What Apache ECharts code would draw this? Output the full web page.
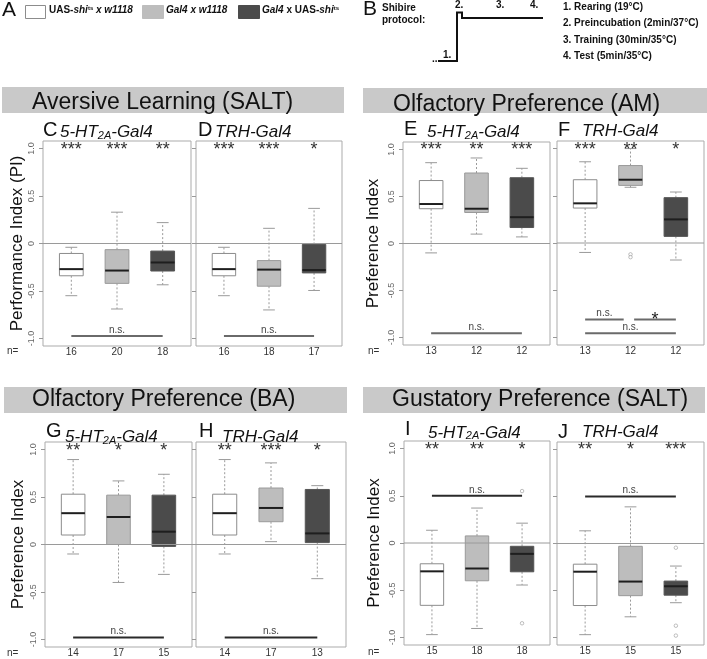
<!DOCTYPE html>
<html>
<head>
<meta charset="utf-8">
<script src="https://cdn.jsdelivr.net/npm/echarts@6/dist/echarts.min.js"></script>
<style>
html, body { margin: 0; padding: 0; background: #fff; }
#chart { width: 707px; height: 659px; }
</style>
</head>
<body>
<div id="chart"></div>
<script>
var FONT = '"Liberation Sans", Arial, Helvetica, sans-serif';

// genotype order inside every panel
var genotypes = ['UAS-shits x w1118', 'Gal4 x w1118', 'Gal4 x UAS-shits'];
var yTicks = [-1, -0.5, 0, 0.5, 1];

// [lower whisker, Q1, median, Q3, upper whisker] per genotype
var boxC = [[-0.55, -0.34, -0.27, -0.105, -0.04], [-0.69, -0.42, -0.285, -0.065, 0.33], [-0.435, -0.29, -0.20, -0.08, 0.22]];
var boxD = [[-0.55, -0.34, -0.27, -0.105, -0.04], [-0.70, -0.45, -0.275, -0.18, 0.16], [-0.495, -0.31, -0.28, -0.01, 0.37]];
var boxE = [[-0.10, 0.37, 0.42, 0.67, 0.86], [0.10, 0.33, 0.37, 0.75, 0.91], [0.07, 0.17, 0.28, 0.70, 0.80]];
var boxF = [[-0.10, 0.37, 0.42, 0.67, 0.86], [0.59, 0.61, 0.67, 0.82, 1.0], [-0.18, 0.07, 0.25, 0.48, 0.54]];
var boxG = [[-0.10, 0.10, 0.33, 0.53, 0.895], [-0.40, 0.0, 0.29, 0.52, 0.67], [-0.315, -0.02, 0.135, 0.52, 0.74]];
var boxH = [[-0.10, 0.10, 0.33, 0.53, 0.895], [0.03, 0.24, 0.385, 0.595, 0.86], [-0.36, 0.02, 0.117, 0.58, 0.62]];
var boxI = [[-0.97, -0.66, -0.30, -0.22, 0.135], [-0.905, -0.40, -0.27, 0.075, 0.37], [-0.445, -0.305, -0.115, -0.035, 0.21]];
var boxJ = [[-0.97, -0.66, -0.30, -0.22, 0.135], [-0.78, -0.555, -0.405, -0.03, 0.39], [-0.63, -0.55, -0.455, -0.40, -0.24]];

// outliers [group, value]
var outF = [[2, -0.12], [2, -0.15]];
var outI = [[3, 0.55], [3, -0.85]];
var outJ = [[3, -0.045], [3, -0.875], [3, -0.98]];

// significance vs. zero
var starsC = ['***', '***', '**'];
var starsD = ['***', '***', '*'];
var starsE = ['***', '**', '***'];
var starsF = ['***', '**', '*'];
var starsG = ['**', '*', '*'];
var starsH = ['**', '***', '*'];
var starsI = ['**', '**', '*'];
var starsJ = ['**', '*', '***'];

// sample sizes
var nC = [16, 20, 18], nD = [16, 18, 17];
var nE = [13, 12, 12], nF = [13, 12, 12];
var nG = [14, 17, 15], nH = [14, 17, 13];
var nI = [15, 18, 18], nJ = [15, 15, 15];

// between-group comparisons [from, to, level, label]
var sigC = [[1, 3, -0.975, 'n.s.']];
var sigD = [[1, 3, -0.975, 'n.s.']];
var sigE = [[1, 3, -0.955, 'n.s.']];
var sigF = [[1, 1.85, -0.81, 'n.s.'], [2.08, 3, -0.81, '*'], [1, 3, -0.955, 'n.s.']];
var sigG = [[1, 3, -0.98, 'n.s.']];
var sigH = [[1, 3, -0.98, 'n.s.']];
var sigI = [[1, 3, 0.50, 'n.s.']];
var sigJ = [[1, 3, 0.50, 'n.s.']];

var panels = [
    {key: 'C', box: boxC, out: [], stars: starsC, n: nC, sig: sigC, row: 0, yName: 'Performance Index (PI)'},
    {key: 'D', box: boxD, out: [], stars: starsD, n: nD, sig: sigD, row: 0},
    {key: 'E', box: boxE, out: [], stars: starsE, n: nE, sig: sigE, row: 0, yName: 'Preference Index'},
    {key: 'F', box: boxF, out: outF, stars: starsF, n: nF, sig: sigF, row: 0},
    {key: 'G', box: boxG, out: [], stars: starsG, n: nG, sig: sigG, row: 1, yName: 'Preference Index'},
    {key: 'H', box: boxH, out: [], stars: starsH, n: nH, sig: sigH, row: 1},
    {key: 'I', box: boxI, out: outI, stars: starsI, n: nI, sig: sigI, row: 1, yName: 'Preference Index'},
    {key: 'J', box: boxJ, out: outJ, stars: starsJ, n: nJ, sig: sigJ, row: 1}
];

// plot boxes in pixels
var layout = {
    C: {left: 43, top: 141, width: 148, height: 205, gap: 16},
    D: {left: 196, top: 141, width: 146, height: 205},
    E: {left: 403, top: 142, width: 147, height: 203, gap: 21},
    F: {left: 557, top: 141, width: 147, height: 204},
    G: {left: 45, top: 442, width: 147, height: 205, gap: 18},
    H: {left: 196, top: 442, width: 150, height: 205},
    I: {left: 404, top: 441, width: 146, height: 204, gap: 21},
    J: {left: 557, top: 442, width: 147, height: 203}
};

var boxStyle = [
    {fill: '#ffffff', stroke: '#8c8c8c'},
    {fill: '#bdbdbd', stroke: '#999999'},
    {fill: '#4b4b4b', stroke: '#555555'}
];
var BOX_W = 0.52;

function renderBox(params, api) {
    var x = api.value(0);
    var lo = api.coord([x, api.value(1)]);
    var q1 = api.coord([x, api.value(2)]);
    var md = api.coord([x, api.value(3)]);
    var q3 = api.coord([x, api.value(4)]);
    var hi = api.coord([x, api.value(5)]);
    var st = boxStyle[api.value(6)];
    var hw = api.size([BOX_W / 2, 0])[0];
    var cw = api.size([BOX_W / 4, 0])[0];
    var cx = lo[0];
    var wl = {stroke: '#9a9a9a', lineWidth: 1, lineDash: [2, 2]};
    var cl = {stroke: '#9a9a9a', lineWidth: 1};
    return {
        type: 'group',
        children: [
            {type: 'line', shape: {x1: cx, y1: q3[1], x2: cx, y2: hi[1]}, style: wl},
            {type: 'line', shape: {x1: cx, y1: q1[1], x2: cx, y2: lo[1]}, style: wl},
            {type: 'line', shape: {x1: cx - cw, y1: hi[1], x2: cx + cw, y2: hi[1]}, style: cl},
            {type: 'line', shape: {x1: cx - cw, y1: lo[1], x2: cx + cw, y2: lo[1]}, style: cl},
            {type: 'rect', shape: {x: cx - hw, y: q3[1], width: 2 * hw, height: q1[1] - q3[1]},
                style: {fill: st.fill, stroke: st.stroke, lineWidth: 1}},
            {type: 'line', shape: {x1: cx - hw, y1: md[1], x2: cx + hw, y2: md[1]},
                style: {stroke: '#1e1e1e', lineWidth: 2}}
        ]
    };
}

function renderZero(params, api) {
    var cs = params.coordSys;
    var y = api.coord([api.value(0), api.value(1)])[1];
    return {type: 'line', shape: {x1: cs.x, y1: y, x2: cs.x + cs.width, y2: y},
        style: {stroke: '#9a9a9a', lineWidth: 1}};
}

var grids = [], xAxes = [], yAxes = [], series = [];

panels.forEach(function (p, i) {
    var L = layout[p.key];
    var first = !!p.yName;
    grids.push({
        left: L.left, top: L.top, width: L.width, height: L.height,
        show: true, borderColor: '#ababab', borderWidth: 1,
        containLabel: false, outerBoundsMode: 'none'
    });
    xAxes.push({
        type: 'value', gridIndex: i, min: 0.38, max: 3.62,
        axisLine: {show: false}, axisTick: {show: false}, splitLine: {show: false},
        axisLabel: {
            customValues: [1, 2, 3], margin: 1, fontSize: 10, color: '#333', fontFamily: FONT,
            formatter: function (v) { return String(p.n[Math.round(v) - 1]); }
        }
    });
    yAxes.push({
        type: 'value', gridIndex: i, min: -1.08, max: 1.08,
        splitLine: {show: false}, axisLine: {show: false},
        axisTick: {show: true, customValues: yTicks, length: 4, lineStyle: {color: '#999'}},
        axisLabel: {
            show: first, customValues: yTicks, rotate: 90, margin: 7,
            fontSize: 9, color: '#666', fontFamily: FONT,
            formatter: function (v) { return v === 0 ? '0' : v.toFixed(1); }
        },
        name: first ? p.yName : '', nameLocation: 'middle', nameRotate: 90, nameGap: L.gap || 20,
        nameTextStyle: {fontSize: 17, color: '#111', fontFamily: FONT}
    });

    series.push({
        type: 'custom', name: p.key + ' boxes', xAxisIndex: i, yAxisIndex: i, silent: true, z: 2,
        renderItem: renderBox,
        encode: {x: 0, y: [1, 2, 3, 4, 5]},
        data: p.box.map(function (b, k) { return [k + 1].concat(b).concat([k]); })
    });
    series.push({
        type: 'custom', xAxisIndex: i, yAxisIndex: i, silent: true, z: 3,
        renderItem: renderZero, encode: {x: 0, y: 1}, data: [[2, 0]]
    });
    series.push({
        type: 'scatter', xAxisIndex: i, yAxisIndex: i, silent: true, z: 3,
        symbol: 'circle', symbolSize: 3.5,
        itemStyle: {color: '#ffffff', borderColor: '#9a9a9a', borderWidth: 0.8},
        data: p.out
    });
    series.push({
        type: 'custom', xAxisIndex: i, yAxisIndex: i, silent: true, z: 4,
        encode: {x: 0, y: 1},
        data: p.stars.map(function (s, k) { return [k + 1, 1.0]; }),
        renderItem: function (params, api) {
            var pt = api.coord([api.value(0), api.value(1)]);
            return {type: 'text', x: pt[0], y: pt[1] + 1,
                style: {text: p.stars[params.dataIndex], fill: '#333', font: '18px ' + FONT,
                    align: 'center', verticalAlign: 'middle'}};
        }
    });
    series.push({
        type: 'custom', xAxisIndex: i, yAxisIndex: i, silent: true, z: 4,
        encode: {x: [0, 1], y: 2},
        data: p.sig.map(function (s) { return [s[0], s[1], s[2]]; }),
        renderItem: function (params, api) {
            var a = api.coord([api.value(0), api.value(2)]);
            var b = api.coord([api.value(1), api.value(2)]);
            var lab = p.sig[params.dataIndex][3];
            var col = p.row === 0 ? '#6a6a6a' : '#2a2a2a';
            var txt = lab === '*'
                ? {type: 'text', x: (a[0] + b[0]) / 2, y: a[1] + 1,
                    style: {text: lab, fill: '#222', font: '18px ' + FONT, align: 'center', verticalAlign: 'middle'}}
                : {type: 'text', x: (a[0] + b[0]) / 2, y: a[1] - 1,
                    style: {text: lab, fill: '#444', font: '10px ' + FONT, align: 'center', verticalAlign: 'bottom'}};
            return {type: 'group', children: [
                {type: 'line', shape: {x1: a[0], y1: a[1], x2: b[0], y2: b[1]}, style: {stroke: col, lineWidth: 2}},
                txt
            ]};
        }
    });
});

// ---- decorations: banners, panel titles, legend (A), protocol (B)
var banners = [
    {text: 'Aversive Learning (SALT)', x: 2, y: 87, w: 342, h: 26, tx: 32, ty: 103},
    {text: 'Olfactory Preference (AM)', x: 363, y: 88, w: 344, h: 25, tx: 393, ty: 105},
    {text: 'Olfactory Preference (BA)', x: 4, y: 387, w: 343, h: 26, tx: 32, ty: 400},
    {text: 'Gustatory Preference (SALT)', x: 363, y: 387, w: 342, h: 26, tx: 392, ty: 400}
];
var titles = [
    {letter: 'C', lx: 43, ly: 130.5, gene: 'ht', tx: 60, ty: 132.5},
    {letter: 'D', lx: 198, ly: 130.5, gene: 'trh', tx: 215, ty: 132.5},
    {letter: 'E', lx: 404, ly: 129.5, gene: 'ht', tx: 427, ty: 132.5},
    {letter: 'F', lx: 558, ly: 130, gene: 'trh', tx: 582, ty: 131.5},
    {letter: 'G', lx: 46, ly: 431.5, gene: 'ht', tx: 65, ty: 437.5},
    {letter: 'H', lx: 199, ly: 431.5, gene: 'trh', tx: 222, ty: 437},
    {letter: 'I', lx: 405, ly: 429.5, gene: 'ht', tx: 428, ty: 433},
    {letter: 'J', lx: 558, ly: 432, gene: 'trh', tx: 582, ty: 432.5}
];

var els = [];
banners.forEach(function (b) {
    els.push({type: 'rect', shape: {x: b.x, y: b.y, width: b.w, height: b.h}, style: {fill: '#c9c9c9'}, silent: true});
    els.push({type: 'text', x: b.tx, y: b.ty, silent: true,
        style: {text: b.text, fill: '#111', font: '23px ' + FONT, align: 'left', verticalAlign: 'middle'}});
});
var geneRich = {
    a: {fontSize: 17, fontStyle: 'italic', fontFamily: FONT, fill: '#111'},
    b: {fontSize: 11, fontStyle: 'italic', fontFamily: FONT, fill: '#111', verticalAlign: 'bottom'}
};
titles.forEach(function (t) {
    els.push({type: 'text', x: t.lx, y: t.ly, silent: true,
        style: {text: t.letter, fill: '#111', font: '20px ' + FONT, align: 'left', verticalAlign: 'middle'}});
    els.push({type: 'text', x: t.tx, y: t.ty, silent: true,
        style: {text: t.gene === 'ht' ? '{a|5-HT}{b|2A}{a|-Gal4}' : '{a|TRH-Gal4}', rich: geneRich,
            align: 'left', verticalAlign: 'middle'}});
});
[[7, 351], [368, 351], [7, 653], [368, 652]].forEach(function (q) {
    els.push({type: 'text', x: q[0], y: q[1], silent: true,
        style: {text: 'n=', fill: '#333', font: '10px ' + FONT, align: 'left', verticalAlign: 'middle'}});
});

// legend A
var legRich = {
    b: {fontSize: 10, fontWeight: 'bold', fontFamily: FONT, fill: '#111'},
    i: {fontSize: 10, fontWeight: 'bold', fontStyle: 'italic', fontFamily: FONT, fill: '#111'},
    s: {fontSize: 6, fontWeight: 'bold', fontFamily: FONT, fill: '#111', verticalAlign: 'top'}
};
els.push({type: 'text', x: 2, y: 10.5, silent: true,
    style: {text: 'A', fill: '#111', font: '21px ' + FONT, align: 'left', verticalAlign: 'middle'}});
var legendBoxes = [[25, 20, '{b|UAS-}{i|shi}{s|ts}{i| x w1118}', 49], [142, 21, '{i|Gal4 x w1118}', 166], [238, 21, '{i|Gal4}{b| x UAS-}{i|shi}{s|ts}', 262]];
legendBoxes.forEach(function (lb, k) {
    els.push({type: 'rect', shape: {x: lb[0] + 0.5, y: 5.5, width: lb[1], height: 13},
        style: {fill: boxStyle[k].fill, stroke: k === 0 ? '#8c8c8c' : boxStyle[k].fill, lineWidth: 1}, silent: true});
    els.push({type: 'text', x: lb[3], y: 10.5, silent: true,
        style: {text: lb[2], rich: legRich, align: 'left', verticalAlign: 'middle'}});
});

// protocol B
var bold10 = 'bold 10px ' + FONT;
els.push({type: 'text', x: 363, y: 9.5, silent: true,
    style: {text: 'B', fill: '#111', font: '21px ' + FONT, align: 'left', verticalAlign: 'middle'}});
els.push({type: 'text', x: 382, y: 8, silent: true, style: {text: 'Shibire', fill: '#111', font: bold10, verticalAlign: 'middle'}});
els.push({type: 'text', x: 382, y: 20, silent: true, style: {text: 'protocol:', fill: '#111', font: bold10, verticalAlign: 'middle'}});
els.push({type: 'polyline', silent: true,
    shape: {points: [[438, 61], [457, 61], [457, 12.5], [462, 12.5], [462, 18], [543, 18]]},
    style: {stroke: '#111', lineWidth: 2, fill: null}});
[['..', 432, 59], ['1.', 443, 55.5], ['2.', 455, 5], ['3.', 496, 5], ['4.', 530, 5]].forEach(function (s) {
    els.push({type: 'text', x: s[1], y: s[2], silent: true, style: {text: s[0], fill: '#111', font: bold10, verticalAlign: 'middle'}});
});
['1. Rearing (19\u00b0C)', '2. Preincubation (2min/37\u00b0C)', '3. Training (30min/35\u00b0C)', '4. Test (5min/35\u00b0C)'].forEach(function (s, k) {
    els.push({type: 'text', x: 563, y: 7.5 + k * 16.2, silent: true,
        style: {text: s, fill: '#111', font: bold10, align: 'left', verticalAlign: 'middle'}});
});

var option = {
    backgroundColor: '#ffffff',
    animation: false,
    grid: grids,
    xAxis: xAxes,
    yAxis: yAxes,
    series: series,
    graphic: {elements: els}
};

var chart = echarts.init(document.getElementById('chart'));
chart.setOption(option);
</script>
</body>
</html>
